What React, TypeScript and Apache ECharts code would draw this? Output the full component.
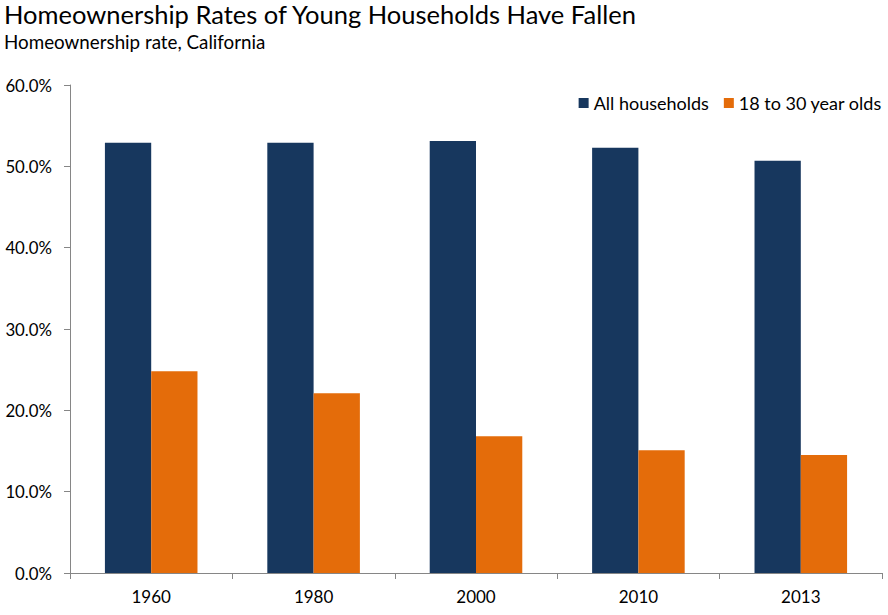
import React, { useEffect, useRef } from "react";
import * as echarts from "echarts";

const categories = ["1960", "1980", "2000", "2010", "2013"];
const allHouseholds = [52.9, 52.9, 53.1, 52.3, 50.7];
const young = [24.8, 22.1, 16.8, 15.1, 14.5];
const seriesNames = ["All households", "18 to 30 year olds"];
const titleText = "Homeownership Rates of Young Households Have Fallen";
const subtitleText = "Homeownership rate, California";

const FONT = "Lato, 'Open Sans', sans-serif";

export default function App() {
  const ref = useRef<HTMLDivElement>(null);
  useEffect(() => {
    const chart = echarts.init(ref.current!, null, { renderer: "svg" });
    chart.setOption({
      animation: false,
      backgroundColor: "#ffffff",
      title: {
        text: titleText,
        subtext: subtitleText,
        left: 4,
        top: 1,
        padding: 0,
        itemGap: 5,
        textStyle: { fontFamily: FONT, fontSize: 25.5, fontWeight: "normal", color: "#000" },
        subtextStyle: { fontFamily: FONT, fontSize: 18.8, color: "#000" },
      },
      legend: {
        right: 6,
        top: 94,
        padding: 0,
        itemWidth: 10,
        itemHeight: 10,
        itemGap: 15,
        icon: "rect",
        textStyle: { fontFamily: FONT, fontSize: 18, color: "#000" },
        data: seriesNames,
      },
      grid: { left: 70, right: 6, top: 85, bottom: 42, containLabel: false },
      xAxis: {
        type: "category",
        data: categories,
        axisLine: { lineStyle: { color: "#868686" } },
        axisTick: { show: true, length: 6, lineStyle: { color: "#868686" } },
        axisLabel: { fontFamily: FONT, fontSize: 17, color: "#000", margin: 15 },
      },
      yAxis: {
        type: "value",
        min: 0,
        max: 60,
        interval: 10,
        axisLine: { show: true, lineStyle: { color: "#868686" } },
        axisTick: { show: true, length: 6, lineStyle: { color: "#868686" } },
        splitLine: { show: false },
        axisLabel: {
          fontFamily: FONT,
          fontSize: 16.8,
          color: "#000",
          margin: 18,
          formatter: (v: number) => v.toFixed(1) + "%",
        },
      },
      series: [
        {
          name: seriesNames[0],
          type: "bar",
          data: allHouseholds,
          itemStyle: { color: "#17375E" },
          barGap: "0%",
          barCategoryGap: "43%",
        },
        {
          name: seriesNames[1],
          type: "bar",
          data: young,
          itemStyle: { color: "#E46C0A" },
        },
      ],
    });
    return () => chart.dispose();
  }, []);
  return (
    <div
      ref={ref}
      style={{ position: "absolute", left: 0, top: 0, width: 888, height: 615 }}
    />
  );
}
